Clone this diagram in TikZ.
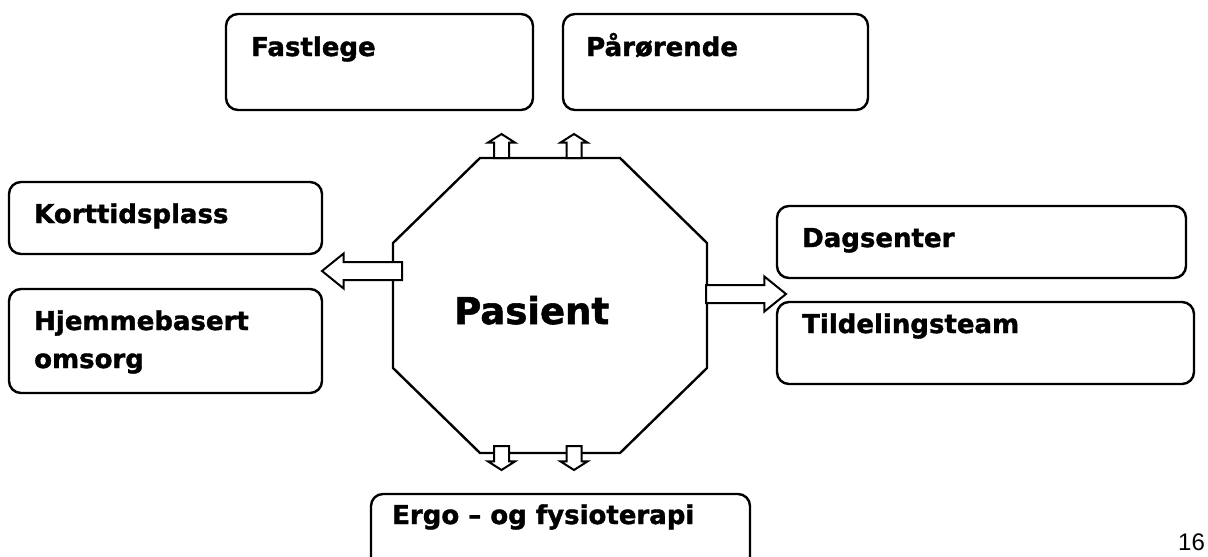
\documentclass[tikz,border=0pt]{standalone}
\usepackage{fontspec}
\setmainfont{DejaVu Sans}[BoldFeatures={FakeBold=1.5}]
\newfontfamily\sidetall{Liberation Sans}
\usetikzlibrary{shapes.arrows}

\begin{document}
\begin{tikzpicture}[
    x=1pt, y=-1pt,
    boks/.style={draw, rounded corners=12pt, line width=2.4pt, inner sep=0pt},
    etikett/.style={anchor=base west, inner sep=0pt, font=\fontsize{26}{38}\selectfont\bfseries},
    okt/.style={draw, line width=2.4pt},
    blokkpil/.style={single arrow, draw, fill=white, line width=2pt, inner xsep=0pt, outer sep=0pt, single arrow head indent=0pt, anchor=tail},
    sidepil/.style={blokkpil, minimum height=80pt, inner ysep=8pt, single arrow head extend=8.5pt, single arrow tip angle=78},
    vertpil/.style={blokkpil, minimum height=24pt, inner ysep=6.5pt, single arrow head extend=6pt, single arrow tip angle=115}
]
\useasboundingbox (0,0) rectangle (1208,557);

% boksene rundt pasienten
\node[boks, minimum width=307pt, minimum height=96pt] (fastlege) at (379.5,62) {};
\node[boks, minimum width=305pt, minimum height=96pt] (parorende) at (715.5,62) {};
\node[boks, minimum width=313pt, minimum height=72pt] (korttid) at (165.5,218) {};
\node[boks, minimum width=313pt, minimum height=104pt] (hjemme) at (165.5,341) {};
\node[boks, minimum width=409pt, minimum height=72pt] (dagsenter) at (981.5,242) {};
\node[boks, minimum width=417pt, minimum height=82pt] (tildeling) at (985.5,343) {};
\node[boks, minimum width=379pt, minimum height=80pt] (ergo) at (560.5,534) {};

\node[etikett] (fastlegeTxt) at (251,56) {Fastlege};
\node[etikett] (parorendeTxt) at (586,56) {Pårørende};
\node[etikett] (korttidTxt) at (34,223) {Korttidsplass};
\node[etikett, text width=270pt, align=left] (hjemmeTxt) at (34,330) {Hjemmebasert\\omsorg};
\node[etikett] (dagsenterTxt) at (802,247) {Dagsenter};
\node[etikett] (tildelingTxt) at (802,333) {Tildelingsteam};
\node[etikett] (ergoTxt) at (392,524) {Ergo – og fysioterapi};

% pasienten
\coordinate (o1) at (480,158);
\coordinate (o2) at (620,158);
\coordinate (o3) at (707,243);
\coordinate (o4) at (707,368);
\coordinate (o5) at (620,453);
\coordinate (o6) at (480,453);
\coordinate (o7) at (393,368);
\coordinate (o8) at (393,243);
\draw[okt] (o1) -- (o2) -- (o3) -- (o4) -- (o5) -- (o6) -- (o7) -- (o8) -- cycle;
\node[anchor=base west, inner sep=0pt, font=\fontsize{37}{40}\selectfont\bfseries] (pasient) at (454,324) {Pasient};

% pilene ut fra pasienten
\node[sidepil] (pilH) at (706,294) {};
\node[sidepil, rotate=180] (pilV) at (402,271) {};
\node[vertpil, rotate=90] (pilO1) at (501.5,158) {};
\node[vertpil, rotate=90] (pilO2) at (574,158) {};
\node[vertpil, rotate=-90] (pilN1) at (501.5,446) {};
\node[vertpil, rotate=-90] (pilN2) at (574,446) {};

\node[anchor=base west, inner sep=0pt, font=\sidetall\fontsize{24}{28}\selectfont] (side) at (1178,550) {16};
\end{tikzpicture}
\end{document}
